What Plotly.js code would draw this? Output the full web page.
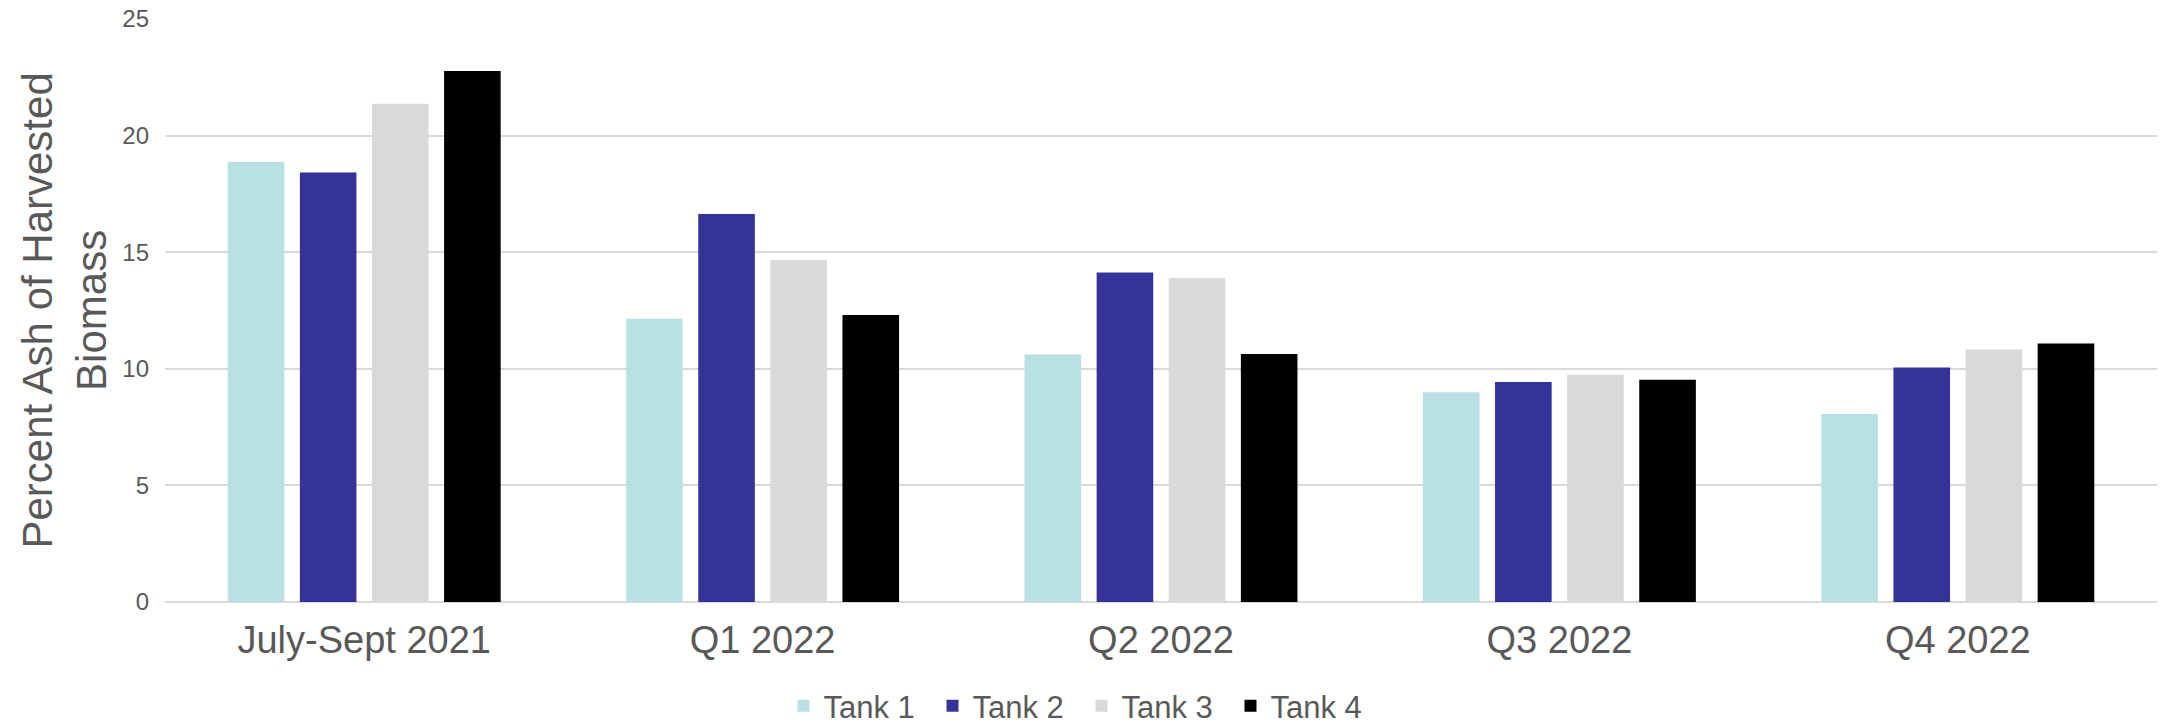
<!DOCTYPE html>
<html>
<head>
<meta charset="utf-8">
<script src="https://cdn.plot.ly/plotly-3.0.1.min.js"></script>
<style>html,body{margin:0;padding:0;background:#fff;}#chart{width:2163px;height:724px;}</style>
</head>
<body>
<div id="chart"></div>
<script>
const categories = ["July-Sept 2021", "Q1 2022", "Q2 2022", "Q3 2022", "Q4 2022"];
const tank1 = [18.87, 12.15, 10.61, 8.99, 8.06];
const tank2 = [18.42, 16.64, 14.13, 9.43, 10.06];
const tank3 = [21.37, 14.67, 13.89, 9.74, 10.83];
const tank4 = [22.77, 12.31, 10.63, 9.53, 11.09];
const seriesNames = ["Tank 1", "Tank 2", "Tank 3", "Tank 4"];
const seriesColors = ["#b9e0e3", "#353399", "#d9d9d9", "#000000"];
const yTicks = [0, 5, 10, 15, 20, 25];
const yTitle = "Percent Ash of Harvested<br>Biomass";

const values = [tank1, tank2, tank3, tank4];
const traces = values.map((v, i) => ({
  type: "bar",
  name: seriesNames[i],
  x: categories,
  y: v,
  marker: {color: seriesColors[i], line: {width: 0}},
  hoverinfo: "x+y+name"
}));

const font = "Liberation Sans, Arial, sans-serif";
const layout = {
  width: 2163,
  height: 724,
  margin: {l: 165, r: 6, t: 18.5, b: 121.5, pad: 0},
  paper_bgcolor: "#ffffff",
  plot_bgcolor: "#ffffff",
  barmode: "group",
  bargap: 0.276,
  bargroupgap: 0.215,
  font: {family: font, color: "#595959"},
  xaxis: {
    type: "category",
    tickfont: {size: 38, color: "#595959", family: font},
    showgrid: false,
    showline: false,
    zeroline: false,
    ticks: "",
    ticklabelstandoff: 12,
    automargin: false
  },
  yaxis: {
    range: [0, 25],
    tickvals: yTicks,
    ticktext: yTicks.map(String),
    tickfont: {size: 24, color: "#595959", family: font},
    showgrid: true,
    gridcolor: "#d9d9d9",
    gridwidth: 2,
    zeroline: true,
    zerolinecolor: "#d9d9d9",
    zerolinewidth: 2,
    showline: false,
    ticks: "",
    ticklabelstandoff: 15,
    automargin: false
  },
  annotations: [{
    text: yTitle,
    xref: "paper", yref: "paper",
    x: (64 - 165) / 1992, y: 0.5,
    xanchor: "center", yanchor: "middle",
    textangle: -90,
    showarrow: false,
    font: {size: 42, color: "#595959", family: font}
  }],
  showlegend: true,
  legend: {
    orientation: "h",
    xref: "container", yref: "container",
    x: 0.5, y: 1 - 706 / 724,
    xanchor: "center", yanchor: "middle",
    font: {size: 31, color: "#595959", family: font},
    itemwidth: 30,
    entrywidth: 104,
    traceorder: "normal",
    bgcolor: "rgba(0,0,0,0)"
  }
};

Plotly.newPlot("chart", traces, layout, {displayModeBar: false, staticPlot: true});
</script>
</body>
</html>
